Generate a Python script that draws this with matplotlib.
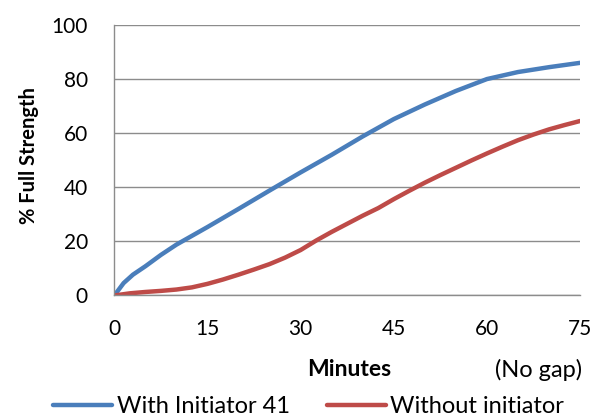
import matplotlib.pyplot as plt

minutes_a = [0, 1.5, 3, 5, 7.5, 10, 15, 20, 25, 30, 35, 40, 45, 50, 55, 60, 65, 70, 75]
with_init = [0, 4.6, 7.7, 10.8, 15, 18.8, 25.3, 32, 38.8, 45.5, 52, 58.8, 65.2, 70.6, 75.6, 80, 82.6, 84.4, 86]

minutes_b = [0, 2.5, 5, 7.5, 10, 12.5, 15, 17.5, 20, 22.5, 25, 27.5, 30, 32.5, 35, 37.5, 40,
             42.5, 45, 47.5, 50, 52.5, 55, 57.5, 60, 62.5, 65, 67.5, 70, 72.5, 75]
without_init = [0, 0.8, 1.3, 1.7, 2.2, 3, 4.3, 5.9, 7.7, 9.6, 11.6, 14, 16.8, 20.3, 23.5, 26.5, 29.5,
                32.3, 35.6, 38.7, 41.7, 44.5, 47.2, 49.9, 52.5, 55, 57.4, 59.5, 61.4, 63, 64.5]

xticks = [0, 15, 30, 45, 60, 75]
yticks = [0, 20, 40, 60, 80, 100]

plt.rcParams["font.family"] = ["Lato", "DejaVu Sans"]

fig = plt.figure(figsize=(6.03, 4.17), dpi=100)
ax = fig.add_axes([0.1896, 0.2914, 0.7723, 0.6487])

ax.plot(minutes_a, with_init, color="#4A7EBB", lw=3.2, label="With Initiator 41", solid_capstyle="round")
ax.plot(minutes_b, without_init, color="#BE4B48", lw=3.2, label="Without initiator", solid_capstyle="round")

ax.set_xlim(0, 75)
ax.set_ylim(0, 100)
ax.set_xticks(xticks)
ax.set_yticks(yticks)
ax.tick_params(labelsize=15, length=0)
ax.tick_params(axis="x", pad=17)
ax.tick_params(axis="y", pad=19)
ax.grid(axis="y", color="#8c8c8c", lw=1)
ax.set_axisbelow(True)
for s in ["top", "right"]:
    ax.spines[s].set_visible(False)
for s in ["left", "bottom"]:
    ax.spines[s].set_color("#8c8c8c")
    ax.spines[s].set_linewidth(1)

# axis titles
fig.text(29 / 603, 1 - 156 / 417, "% Full Strength", fontsize=14.5, fontweight="bold",
         rotation=90, ha="center", va="center")
fig.text(349 / 603, 1 - 370 / 417, "Minutes", fontsize=16.5, fontweight="bold", ha="center", va="center")
fig.text(539 / 603, 1 - 370 / 417, "(No gap)", fontsize=17, ha="center", va="center")

fig.legend(loc="center", bbox_to_anchor=(0.512, 0.025), ncol=2, frameon=False, fontsize=17,
           handlelength=2.5, handletextpad=0.2, columnspacing=1.55)

fig.savefig("out.png", dpi=100)
